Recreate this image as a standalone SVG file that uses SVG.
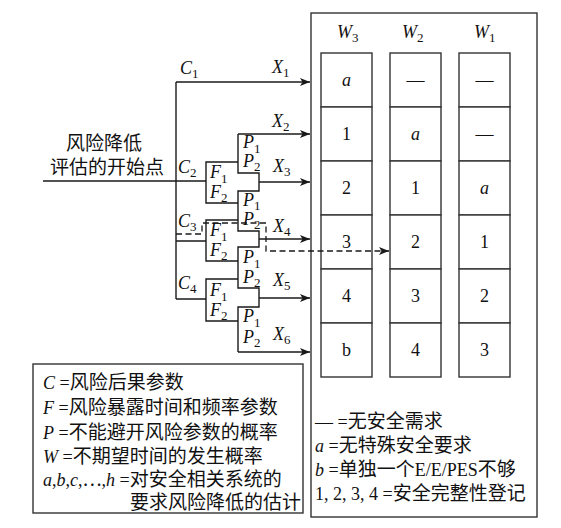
<svg xmlns="http://www.w3.org/2000/svg" width="561" height="528" viewBox="0 0 561 528">
<defs>
<marker id="arr" markerUnits="userSpaceOnUse" markerWidth="11" markerHeight="8" refX="10" refY="4" orient="auto">
<path d="M0,0 L10,4 L0,8 L2.5,4 z" fill="#1a1a1a"/>
</marker>
<style>
.ln{fill:none;stroke:#1a1a1a;stroke-width:1.4}
.dash{fill:none;stroke:#1a1a1a;stroke-width:1.3;stroke-dasharray:6,3.5}
.box{fill:#fff;stroke:#333;stroke-width:1.4}
.t{font-family:"Liberation Serif","Noto Sans CJK SC",serif;font-size:18px;fill:#111}
.i{font-style:italic}
.s{font-size:13px;font-style:normal}
.cj{font-family:"Noto Sans CJK SC",sans-serif;font-size:19px}
.c{text-anchor:middle}
</style>
</defs>
<rect width="561" height="528" fill="#fff"/>

<g id="result-panel">
<rect class="box" x="311" y="13" width="226" height="504"/>
</g>

<g id="col-W3">
<text class="t i" x="337" y="38">W<tspan class="s" dy="4">3</tspan></text>
<rect class="box" x="321" y="53" width="51" height="54"/>
<rect class="box" x="321" y="107" width="51" height="54"/>
<rect class="box" x="321" y="161" width="51" height="54"/>
<rect class="box" x="321" y="215" width="51" height="54"/>
<rect class="box" x="321" y="269" width="51" height="54"/>
<rect class="box" x="321" y="323" width="51" height="54"/>
<text class="t i c" x="346.5" y="86">a</text>
<text class="t c" x="346.5" y="140">1</text>
<text class="t c" x="346.5" y="194">2</text>
<text class="t c" x="346.5" y="248">3</text>
<text class="t c" x="346.5" y="302">4</text>
<text class="t c" x="346.5" y="356">b</text>
</g>

<g id="col-W2">
<text class="t i" x="402" y="38">W<tspan class="s" dy="4">2</tspan></text>
<rect class="box" x="390" y="53" width="51" height="54"/>
<rect class="box" x="390" y="107" width="51" height="54"/>
<rect class="box" x="390" y="161" width="51" height="54"/>
<rect class="box" x="390" y="215" width="51" height="54"/>
<rect class="box" x="390" y="269" width="51" height="54"/>
<rect class="box" x="390" y="323" width="51" height="54"/>
<text class="t c" x="415.5" y="86">—</text>
<text class="t i c" x="415.5" y="140">a</text>
<text class="t c" x="415.5" y="194">1</text>
<text class="t c" x="415.5" y="248">2</text>
<text class="t c" x="415.5" y="302">3</text>
<text class="t c" x="415.5" y="356">4</text>
</g>

<g id="col-W1">
<text class="t i" x="474" y="38">W<tspan class="s" dy="4">1</tspan></text>
<rect class="box" x="459" y="53" width="51" height="54"/>
<rect class="box" x="459" y="107" width="51" height="54"/>
<rect class="box" x="459" y="161" width="51" height="54"/>
<rect class="box" x="459" y="215" width="51" height="54"/>
<rect class="box" x="459" y="269" width="51" height="54"/>
<rect class="box" x="459" y="323" width="51" height="54"/>
<text class="t c" x="484.5" y="86">—</text>
<text class="t c" x="484.5" y="140">—</text>
<text class="t i c" x="484.5" y="194">a</text>
<text class="t c" x="484.5" y="248">1</text>
<text class="t c" x="484.5" y="302">2</text>
<text class="t c" x="484.5" y="356">3</text>
</g>

<g id="start">
<text class="t cj" x="66" y="150">风险降低</text>
<text class="t cj" x="50" y="174">评估的开始点</text>
</g>

<g id="connectors">
<path class="ln" d="M43,181 H176 M176,82 V299 M176,181 H206 M176,241 H206 M176,299 H206"/>
<path class="ln" d="M238,162 H206 V203 H238 M238,220 H206 V261 H238 M238,279 H206 V321 H238"/>
<path class="ln" d="M238,134 V173 H259 V191 H238 V231 H259 V247 H238 V288 H259 V307 H238 V352"/>
<path class="ln" marker-end="url(#arr)" d="M176,82 H310"/>
<path class="ln" marker-end="url(#arr)" d="M238,134 H310"/>
<path class="ln" marker-end="url(#arr)" d="M259,182 H310"/>
<path class="ln" marker-end="url(#arr)" d="M259,239 H310"/>
<path class="ln" marker-end="url(#arr)" d="M259,298 H310"/>
<path class="ln" marker-end="url(#arr)" d="M238,352 H310"/>
<path class="dash" marker-end="url(#arr)" d="M176,234 H202 V223 H266 V251 H389"/>
</g>

<g id="branch-labels">
<text class="t i" x="180" y="74">C<tspan class="s" dy="4">1</tspan></text>
<text class="t i" x="272" y="73">X<tspan class="s" dy="4">1</tspan></text>
<text class="t i" x="272" y="127">X<tspan class="s" dy="4">2</tspan></text>
<text class="t i" x="243" y="148">P<tspan class="s" dy="5">1</tspan></text>
<text class="t i" x="243" y="167">P<tspan class="s" dy="4">2</tspan></text>
<text class="t i" x="178" y="173">C<tspan class="s" dy="4">2</tspan></text>
<text class="t i" x="273" y="172">X<tspan class="s" dy="4">3</tspan></text>
<text class="t i" x="210" y="178">F<tspan class="s" dy="5">1</tspan></text>
<text class="t i" x="210" y="198">F<tspan class="s" dy="4">2</tspan></text>
<text class="t i" x="243" y="206">P<tspan class="s" dy="4">1</tspan></text>
<text class="t i" x="243" y="225">P<tspan class="s" dy="4">2</tspan></text>
<text class="t i" x="178" y="227">C<tspan class="s" dy="4">3</tspan></text>
<text class="t i" x="210" y="236">F<tspan class="s" dy="5">1</tspan></text>
<text class="t i" x="273" y="232">X<tspan class="s" dy="4">4</tspan></text>
<text class="t i" x="210" y="256">F<tspan class="s" dy="4">2</tspan></text>
<text class="t i" x="243" y="263">P<tspan class="s" dy="5">1</tspan></text>
<text class="t i" x="243" y="283">P<tspan class="s" dy="4">2</tspan></text>
<text class="t i" x="273" y="286">X<tspan class="s" dy="4">5</tspan></text>
<text class="t i" x="178" y="289">C<tspan class="s" dy="4">4</tspan></text>
<text class="t i" x="210" y="296">F<tspan class="s" dy="5">1</tspan></text>
<text class="t i" x="210" y="316">F<tspan class="s" dy="4">2</tspan></text>
<text class="t i" x="243" y="322">P<tspan class="s" dy="5">1</tspan></text>
<text class="t i" x="243" y="343">P<tspan class="s" dy="4">2</tspan></text>
<text class="t i" x="273" y="340">X<tspan class="s" dy="4">6</tspan></text>
</g>

<g id="legend-left">
<rect class="box" x="33" y="364" width="270" height="149"/>
<text class="t" x="43" y="389"><tspan class="i">C</tspan> =<tspan class="cj">风险后果参数</tspan></text>
<text class="t" x="43" y="414"><tspan class="i">F</tspan> =<tspan class="cj">风险暴露时间和频率参数</tspan></text>
<text class="t" x="43" y="439"><tspan class="i">P</tspan> =<tspan class="cj">不能避开风险参数的概率</tspan></text>
<text class="t" x="43" y="463"><tspan class="i">W</tspan> =<tspan class="cj">不期望时间的发生概率</tspan></text>
<text class="t" x="43" y="486"><tspan class="i">a</tspan>,<tspan class="i">b</tspan>,<tspan class="i">c</tspan>,⋯,<tspan class="i">h</tspan> =<tspan class="cj">对安全相关系统的</tspan></text>
<text class="t cj" x="130" y="509">要求风险降低的估计</text>
</g>

<g id="legend-right">
<text class="t" x="315" y="428">— =<tspan class="cj">无安全需求</tspan></text>
<text class="t" x="315" y="452"><tspan class="i">a</tspan> =<tspan class="cj">无特殊安全要求</tspan></text>
<text class="t" x="315" y="476"><tspan class="i">b</tspan> =<tspan class="cj">单独一个</tspan>E/E/PES<tspan class="cj">不够</tspan></text>
<text class="t" x="315" y="500">1, 2, 3, 4 =<tspan class="cj">安全完整性登记</tspan></text>
</g>
</svg>
